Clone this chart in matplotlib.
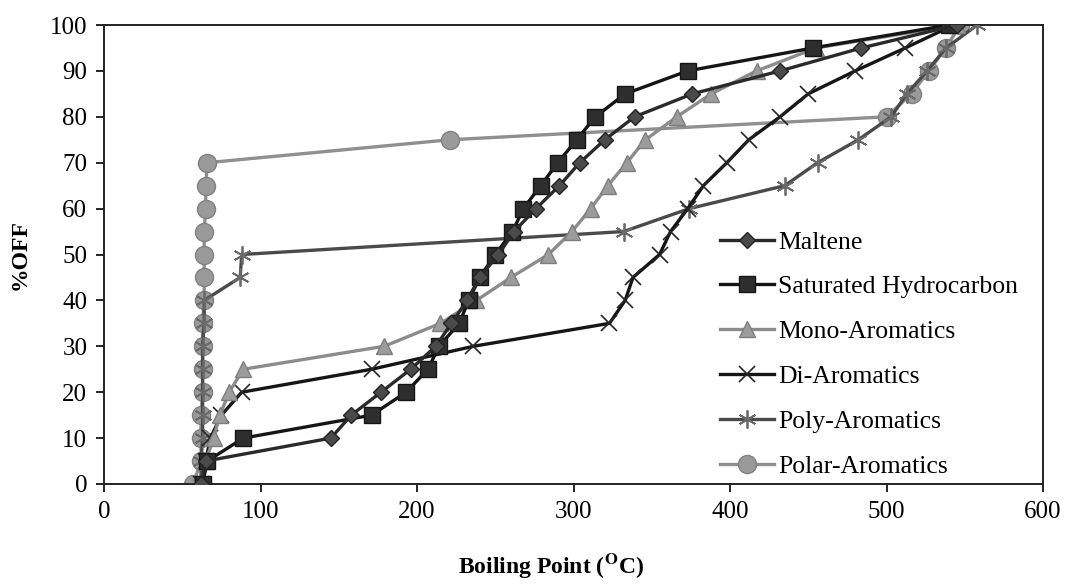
import numpy as np
import matplotlib
matplotlib.use("Agg")
import matplotlib.pyplot as plt

plt.rcParams["font.family"] = ["Liberation Serif", "DejaVu Serif"]
plt.rcParams["mathtext.fontset"] = "stix"

# %OFF levels shared by all series
pct_off = [0, 5, 10, 15, 20, 25, 30, 35, 40, 45, 50,
           55, 60, 65, 70, 75, 80, 85, 90, 95, 100]

# Boiling point (C) at each %OFF
maltene = [62, 65, 145, 158, 177, 196, 212, 222, 232, 240, 252,
           262, 276, 291, 304, 320, 339, 376, 432, 484, 545]
saturated = [63, 66, 89, 171, 193, 207, 214, 227, 233, 240, 250,
             261, 268, 279, 290, 302, 314, 333, 373, 453, 540]
mono = [62, 65, 70, 74, 80, 89, 179, 215, 238, 260, 284,
        299, 311, 322, 334, 346, 366, 388, 417, 455, 545]
di = [62, 65, 68, 75, 88, 171, 236, 323, 333, 338, 355,
      362, 373, 383, 398, 412, 432, 450, 480, 512, 543]
poly = [62, 62, 63, 63, 63, 63, 63, 64, 64, 87, 88,
        332, 374, 435, 456, 482, 503, 513, 526, 538, 558]
polar = [57, 62, 62, 62, 63, 63, 63, 63, 64, 64, 64,
         64, 65, 65, 66, 221, 500, 516, 527, 538, 547]

labels = ["Maltene", "Saturated Hydrocarbon", "Mono-Aromatics",
          "Di-Aromatics", "Poly-Aromatics", "Polar-Aromatics"]

fig = plt.figure(figsize=(10.65, 5.88), dpi=100)
ax = fig.add_axes([104 / 1065, 1 - 484 / 588, (1043 - 104) / 1065, (484 - 25) / 588])

lw = 2.4
ax.plot(polar, pct_off, color="#8f8f8f", lw=lw, marker="o", ms=13,
        mfc="#9a9a9a", mec="#808080", label=labels[5], zorder=2)
ax.plot(poly, pct_off, color="#4a4a4a", lw=lw, marker=(6, 2, 0), ms=13,
        mec="#6a6a6a", mew=1.3, label=labels[4], zorder=3)
ax.plot(di, pct_off, color="#151515", lw=lw, marker="x", ms=12,
        mec="#252525", mew=1.2, label=labels[3], zorder=4)
ax.plot(mono, pct_off, color="#8c8c8c", lw=lw, marker="^", ms=11,
        mfc="#9c9c9c", mec="#7e7e7e", label=labels[2], zorder=5)
ax.plot(saturated, pct_off, color="#151515", lw=lw, marker="s", ms=12,
        mfc="#2e2e2e", mec="#151515", label=labels[1], zorder=6)
ax.plot(maltene, pct_off, color="#2a2a2a", lw=lw, marker="D", ms=8,
        mfc="#4a4a4a", mec="#222222", label=labels[0], zorder=7)

ax.set_xlim(0, 600)
ax.set_ylim(0, 100)
ax.set_xticks(range(0, 601, 100))
ax.set_yticks(range(0, 101, 10))
ax.tick_params(labelsize=18, length=6, width=1.2, direction="out", pad=6)
for s in ax.spines.values():
    s.set_linewidth(1.4)
    s.set_color("#222222")

ax.set_ylabel("%OFF", fontsize=17, fontweight="bold", labelpad=14)
fig.text(551 / 1065, 1 - 566 / 588, r"Boiling Point ($\mathbf{^{O}}$C)",
         fontsize=17, fontweight="bold", ha="center", va="center")

handles, labs = ax.get_legend_handles_labels()
order = [labs.index(l) for l in labels]
ax.legend([handles[i] for i in order], [labs[i] for i in order],
          loc="upper left", bbox_to_anchor=(0.656, 0.552), frameon=False,
          fontsize=18.5, handlelength=2.1, handletextpad=0.15,
          labelspacing=0.85, borderaxespad=0.0, borderpad=0.0)

fig.savefig("out.png", dpi=100)
